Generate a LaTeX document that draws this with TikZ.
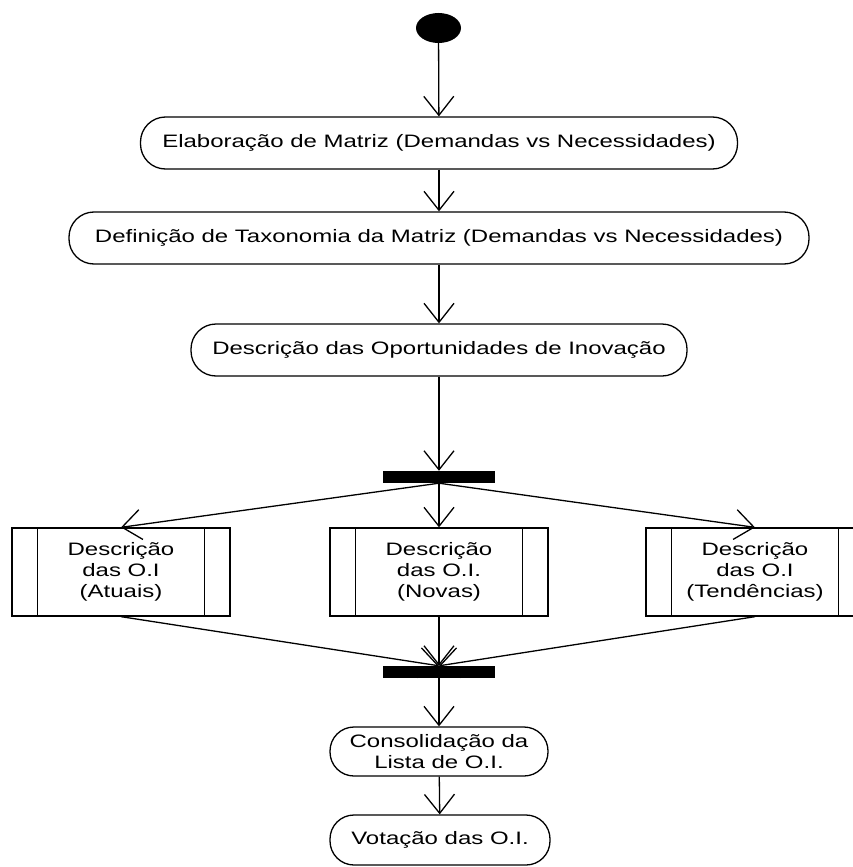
\documentclass[tikz,border=0pt]{standalone}
\usepackage{fontspec}
\setmainfont{Liberation Sans}[FakeStretch=1.333]
\usetikzlibrary{arrows.meta,shapes.geometric}
\begin{document}
\begin{tikzpicture}[x=1pt,y=-1pt,
  every node/.style={font=\fontsize{18}{20.7}\selectfont},
  flow/.style={line width=1.3pt,-{Straight Barb[length=19pt,width=30pt,line width=1.3pt]}},
  activity/.style={draw,line width=1.3pt,rounded corners=25pt,minimum height=52pt,inner sep=0pt,align=center},
  subact/.style={draw,line width=1.3pt,minimum width=218pt,minimum height=88pt,inner sep=0pt,align=center},
  syncbar/.style={fill=black,draw=none,minimum width=112pt,minimum height=12pt,inner sep=0pt},
  initial/.style={ellipse,fill=black,minimum width=45pt,minimum height=30pt,inner sep=0pt},
]
\useasboundingbox (0,0) rectangle (853,867);
\clip (0,0) rectangle (853,867);
\fill[white] (0,0) rectangle (853,867);

% initial state
\node[initial] (start) at (438.5,28) {};

% main sequence of activities
\node[activity,minimum width=597pt] (n1) at (439,143) {Elaboração de Matriz (Demandas vs Necessidades)};
\node[activity,minimum width=740pt] (n2) at (439,238) {Definição de Taxonomia da Matriz (Demandas vs Necessidades)};
\node[activity,minimum width=496pt] (n3) at (439,350) {Descrição das Oportunidades de Inovação};

% fork
\node[syncbar] (fork) at (439,477) {};

% parallel sub-activities
\node[subact] (bl) at (121,572) {Descrição\\das O.I\\(Atuais)};
\node[subact] (bm) at (439,572) {Descrição\\das O.I.\\(Novas)};
\node[subact] (br) at (755,572) {Descrição\\das O.I\\(Tendências)};
\foreach \b in {bl,bm,br}{
  \draw[line width=1.3pt] ([xshift=26pt]\b.north west) -- ([xshift=26pt]\b.south west);
  \draw[line width=1.3pt] ([xshift=-26pt]\b.north east) -- ([xshift=-26pt]\b.south east);
}

% join
\node[syncbar] (join) at (439,672) {};

% final activities
\node[activity,minimum width=218pt,minimum height=49pt,rounded corners=24pt] (n4) at (439,751.5) {Consolidação da\\Lista de O.I.};
\node[activity,minimum width=220pt,minimum height=50pt,rounded corners=24pt] (n5) at (440,840) {Votação das O.I.};

% transitions
\draw[flow] (start) -- (n1);
\draw[flow] (n1) -- (n2);
\draw[flow] (n2) -- (n3);
\draw[flow] (n3) -- (fork);
\draw[flow] (fork.south) -- (bl.north);
\draw[flow] (fork.south) -- (bm.north);
\draw[flow] (fork.south) -- (br.north);
\draw[flow] (bl.south) -- (join.north);
\draw[flow] (bm.south) -- (join.north);
\draw[flow] (br.south) -- (join.north);
\draw[flow] (join) -- (n4);
\draw[flow] (n4) -- (n5);
\end{tikzpicture}
\end{document}
